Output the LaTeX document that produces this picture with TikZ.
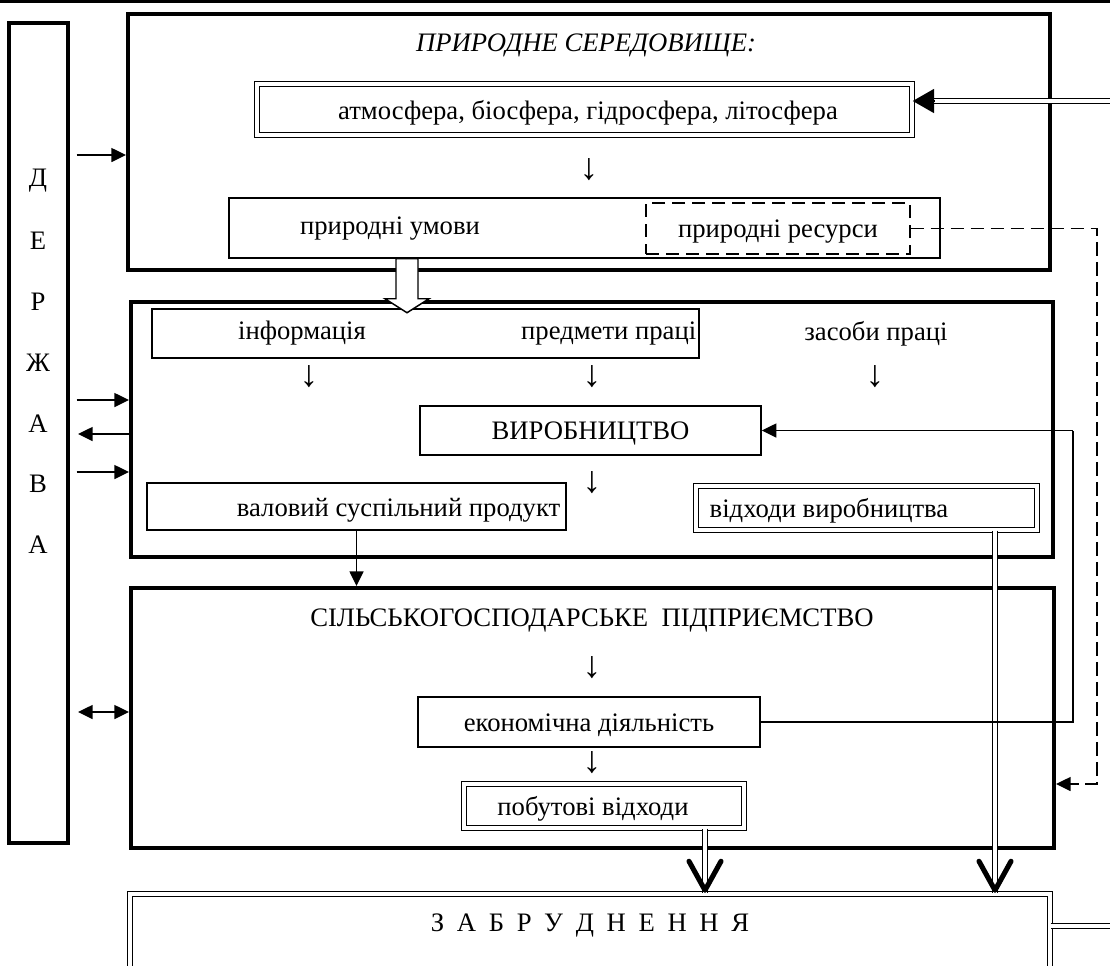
\documentclass[tikz,border=0pt]{standalone}
\usepackage{fontspec}
\setmainfont{Liberation Serif}
\usetikzlibrary{arrows.meta,positioning,calc}

\begin{document}
\begin{tikzpicture}[x=0.75pt,y=-0.75pt,line width=1.1pt,font=\fontsize{20}{24}\selectfont,
  >={Triangle[length=11pt,width=10.5pt]},
  wh/.style 2 args={minimum width=#1*0.75pt,minimum height=#2*0.75pt},
  thick box/.style={rectangle,draw,line width=3pt,inner sep=0pt},
  thin box/.style={rectangle,draw,inner sep=0pt},
  double box/.style={rectangle,draw,double,double distance=2.6pt,inner sep=0pt},
  dashed box/.style={rectangle,draw,dash pattern=on 10pt off 5pt,inner sep=0pt},
  lbl/.style={inner sep=0pt,yshift=-2.6pt},
  dn arrow/.style={inner sep=0pt,font=\fontsize{28}{30}\selectfont},
  dline/.style={line width=0.8pt,double,double distance=2.5pt},
  vtip/.style={line width=3.8pt,line cap=round,line join=round}]
  \useasboundingbox (0,0) rectangle (1110,965);
  \draw[line width=2.3pt] (0,1.5) -- (1110,1.5);

  %定义方框
  \node[thick box,wh={59.5}{820}] (DERZH) at (38.25,433) {};
  \foreach \l [count=\i from 0] in {Д,Е,Р,Ж,А,В,А}
    \node[lbl] (L\i) at (38,177+60.7*\i) {\l};

  \node[thick box,wh={922}{256}] (PRYR) at (589,142) {};
  \node[lbl] (PRYRT) at (586,42) {\itshape ПРИРОДНЕ СЕРЕДОВИЩЕ:};
  \node[double box,wh={655}{51}] (ATM) at (584.5,109.5) {};
  \node[lbl] (ATMT) at (588,109.5) {атмосфера, біосфера, гідросфера, літосфера};
  \node[dn arrow] (D1) at (589,170) {↓};
  \node[thin box,wh={711}{60}] (UMOVY) at (584.5,228) {};
  \node[lbl] (UMOVYT) at (390,225) {природні умови};
  \node[dashed box,wh={264}{51}] (RES) at (778,228.5) {};
  \node[lbl] (REST) at (RES) {природні ресурси};

  \node[thick box,wh={922}{255}] (VYRB) at (592,429.5) {};
  \node[thin box,wh={547}{49}] (INFO) at (425.5,333.5) {};
  \node[lbl] (INFOT) at (302,330) {інформація};
  \node[lbl,anchor=east] (PREDM) at (697,330) {предмети праці};
  \node[lbl] (ZASOB) at (876,330) {засоби праці};
  \foreach \x/\n in {309/D2,592/D3,875/D4}
    \node[dn arrow] (\n) at (\x,377) {↓};
  \node[thin box,wh={341}{49}] (VYROB) at (590.5,430.5) {};
  \node[lbl] (VYROBT) at (VYROB) {ВИРОБНИЦТВО};
  \node[dn arrow] (D5) at (592,483) {↓};
  \node[thin box,wh={419}{47}] (VAL) at (356.5,506.5) {};
  \node[lbl,anchor=east] (VALT) at (561,507) {валовий суспільний продукт};
  \node[double box,wh={341}{44}] (VIDKH) at (866.5,508) {};
  \node[lbl,anchor=west] (VIDKHT) at (709,507) {відходи виробництва};

  \node[thick box,wh={923}{260}] (SILSK) at (592.5,718) {};
  \node[lbl] (SILSKT) at (592,617) {СІЛЬСЬКОГОСПОДАРСЬКЕ\ \ ПІДПРИЄМСТВО};
  \node[dn arrow] (D6) at (592,668) {↓};
  \node[thin box,wh={342}{50}] (EKON) at (589,722) {};
  \node[lbl] (EKONT) at (EKON) {економічна діяльність};
  \node[dn arrow] (D7) at (592,763) {↓};
  \node[double box,wh={280}{44}] (POBUT) at (604,806) {};
  \node[lbl] (POBUTT) at (593,805) {побутові відходи};

  \node[double box,wh={920}{94}] (ZABR) at (590,941) {};
  \node[lbl] (ZABRT) at (590,922) {\spaceskip=9.5pt З А Б Р У Д Н Е Н Н Я};

  \coordinate (IN) at (1110,101);
  \coordinate (AT) at (ATM.east |- IN);
  \coordinate (RL) at (1073,0);
  \coordinate (DR) at (1097,784);
  \coordinate (VX) at (995,0);
  \coordinate (PX) at (705,0);
  \coordinate (ZR) at (1110,926);
  \coordinate (BT) at (UMOVY.south -| 407,0);

  \draw[dline] (IN) -- ($(AT)+(20,0)$);
  \draw[-{Triangle[length=16pt,width=18pt]}] ($(AT)+(22,0)$) -- (AT);

  \path[->]
  (DERZH.east |- 0,155) edge[shorten <=5pt] (PRYR.west |- 0,155)
  (DERZH.east |- 0,400) edge[shorten <=5pt] (VYRB.west |- 0,400)
  (VYRB.west |- 0,434) edge[shorten >=6pt] (DERZH.east |- 0,434)
  (DERZH.east |- 0,472) edge[shorten <=5pt] (VYRB.west |- 0,472)
  (VAL.south) edge (VAL.south |- SILSK.north);
  \draw[<->,shorten <=6pt] (DERZH.east |- 0,712) -- (SILSK.west |- 0,712);

  \draw[dash pattern=on 10pt off 5pt,->] (RES.east) -| (DR) -- (SILSK.east |- DR);

  \draw[dline] (VX |- VIDKH.south) -- (VX |- ZABR.north);
  \draw[dline] (PX |- POBUT.south) -- (PX |- ZABR.north);
  \draw[dline] (ZABR.east |- ZR) -- (ZR);
  \foreach \c in {VX,PX} {
    \coordinate (VT) at (\c |- ZABR.north);
    \draw[vtip] ($(VT)+(-16,-32)$) -- ($(VT)+(0,-3)$) -- ($(VT)+(16,-32)$);
  }

  \draw (EKON.east) -| (RL |- VYROB.east);
  \draw[->] (RL |- VYROB.east) -- (VYROB.east);

  \draw[fill=white] (BT) ++(-11,0) -- ++(0,40) -- ++(-11,0) -- ++(22,14)
    -- ++(22,-14) -- ++(-11,0) -- ++(0,-40) -- cycle;
\end{tikzpicture}
\end{document}
